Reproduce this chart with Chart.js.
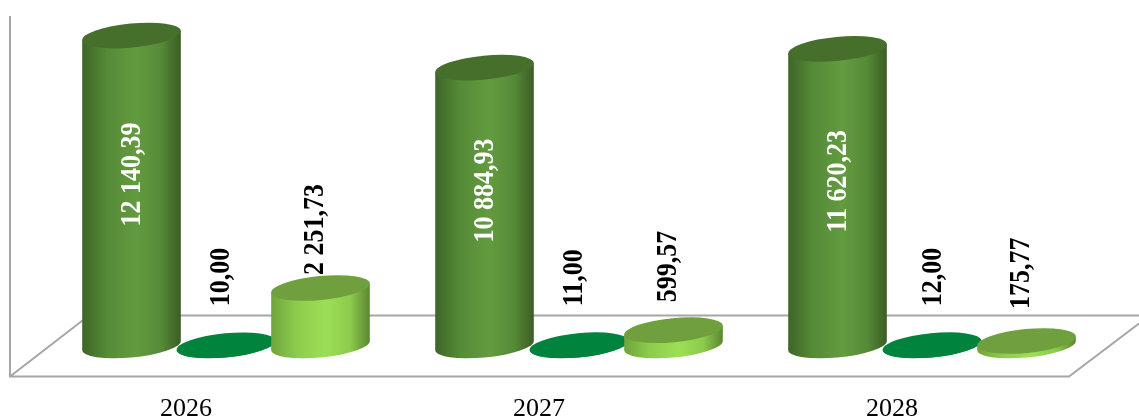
<!DOCTYPE html>
<html>
<head>
<meta charset="utf-8">
<script src="https://cdn.jsdelivr.net/npm/chart.js@4/dist/chart.umd.js"></script>
<style>
  html, body { margin: 0; padding: 0; background: #fff; }
  canvas { display: block; }
</style>
</head>
<body>
<canvas id="chart" width="1139" height="419"></canvas>
<script>
// Data
const years = ['2026', '2027', '2028'];
const seriesA = [12140.39, 10884.93, 11620.23];
const seriesB = [10.00, 11.00, 12.00];
const seriesC = [2251.73, 599.57, 175.77];

// Colours for each cylinder: side gradient + cap
const looks = [
    { stops: ['#3d6527', '#558a37', '#639b40', '#3b5c25'], cap: '#476f2c', labelColor: '#ffffff' },
    { stops: ['#00843d', '#00843d', '#00843d', '#00843d'], cap: '#00843d', labelColor: '#000000' },
    { stops: ['#6fa43c', '#8ccb4c', '#9cdf56', '#5b8530'], cap: '#709f3e', labelColor: '#000000' }
];

// How far the black labels sit above their cylinder
const liftB = [39, 39, 39];
const liftC = [13, 28, 32];
const nudgeB = [0, 0, 6];

const TILT = -5.5 * Math.PI / 180;
const CAP_B = 12;

// 12140.39 -> "12 140,39"
const formatValue = (v) => {
    const parts = v.toFixed(2).split('.');
    return parts[0].replace(/\B(?=(\d{3})+$)/g, ' ') + ',' + parts[1];
};

// Draw one cylinder from a bar element
const drawCylinder = (ctx, el, look) => {
    const a = el.width / 2;
    const t0 = Math.atan(-(CAP_B / a) * Math.tan(TILT));
    const dx = a * Math.cos(t0 + Math.PI) * Math.cos(TILT) - CAP_B * Math.sin(t0 + Math.PI) * Math.sin(TILT);
    const dy = a * Math.cos(t0 + Math.PI) * Math.sin(TILT) + CAP_B * Math.sin(t0 + Math.PI) * Math.cos(TILT);

    const grad = ctx.createLinearGradient(el.x - a, 0, el.x + a, 0);
    grad.addColorStop(0, look.stops[0]);
    grad.addColorStop(0.25, look.stops[1]);
    grad.addColorStop(0.55, look.stops[2]);
    grad.addColorStop(0.8, look.stops[1]);
    grad.addColorStop(1, look.stops[3]);

    ctx.beginPath();
    ctx.ellipse(el.x, el.base, a, CAP_B, TILT, t0, t0 + Math.PI);
    ctx.lineTo(el.x + dx, el.y + dy);
    ctx.lineTo(el.x - dx, el.y - dy);
    ctx.closePath();
    ctx.fillStyle = grad;
    ctx.fill();

    ctx.beginPath();
    ctx.ellipse(el.x, el.y, a, CAP_B, TILT, 0, Math.PI * 2);
    ctx.fillStyle = look.cap;
    ctx.fill();
};

// Walls and floor of the 3D box
const boxPlugin = {
    id: 'box',
    beforeDatasetsDraw(chart) {
        const { ctx } = chart;
        const floorBack = chart.scales.y.getPixelForValue(0) - 30;
        const floorFront = floorBack + 61;
        ctx.save();
        ctx.strokeStyle = '#a6a6a6';
        ctx.lineWidth = 2;
        ctx.beginPath();
        ctx.moveTo(10, 16);
        ctx.lineTo(10, floorFront);
        ctx.lineTo(1069, floorFront);
        ctx.lineTo(1139, floorFront - 53);
        ctx.moveTo(10, floorFront);
        ctx.lineTo(89, floorBack);
        ctx.lineTo(1139, floorBack);
        ctx.stroke();
        ctx.restore();
    }
};

// Swap the flat bars for cylinders, left one first so the next overlaps it
const cylinderPlugin = {
    id: 'cylinder',
    beforeDatasetDraw() {
        return false;
    },
    afterDatasetsDraw(chart) {
        const { ctx } = chart;
        ctx.save();
        chart.data.datasets.forEach((ds, i) => {
            chart.getDatasetMeta(i).data.forEach(el => drawCylinder(ctx, el, looks[i]));
        });
        ctx.restore();
    }
};

// Rotated value labels
const labelPlugin = {
    id: 'valueLabels',
    afterDatasetsDraw(chart) {
        const { ctx } = chart;
        ctx.save();
        ctx.font = 'bold 26px "Liberation Serif"';
        ctx.textBaseline = 'middle';
        chart.data.datasets.forEach((ds, i) => {
            chart.getDatasetMeta(i).data.forEach((el, j) => {
                const text = formatValue(ds.data[j]);
                ctx.save();
                ctx.fillStyle = looks[i].labelColor;
                if (i === 0) {
                    ctx.translate(el.x + 1, (el.y + el.base) / 2 - 16);
                    ctx.textAlign = 'center';
                } else if (i === 1) {
                    ctx.translate(el.x - 5 + nudgeB[j], el.y - liftB[j]);
                    ctx.textAlign = 'left';
                } else {
                    ctx.translate(el.x - 5, el.y - liftC[j]);
                    ctx.textAlign = 'left';
                }
                ctx.rotate(-Math.PI / 2);
                // glyphs in the original are a little wider across the bar
                ctx.scale(1, 1.12);
                ctx.fillText(text, 0, 0);
                ctx.restore();
            });
        });
        ctx.restore();
    }
};

new Chart(document.getElementById('chart'), {
    type: 'bar',
    data: {
        labels: years,
        datasets: [
            { data: seriesA },
            { data: seriesB },
            { data: seriesC }
        ]
    },
    options: {
        responsive: false,
        animation: false,
        categoryPercentage: 0.803,
        barPercentage: 1.048,
        layout: { padding: { left: 49.5, right: 30.5, top: 13.6, bottom: 0 } },
        plugins: { legend: { display: false }, tooltip: { enabled: false } },
        scales: {
            x: {
                grid: { display: false },
                border: { display: false },
                afterFit: (scale) => { scale.height = 73.5; },
                ticks: {
                    color: '#000',
                    font: { family: '"Liberation Serif"', size: 26 },
                    padding: 40,
                    labelOffset: -40,
                    maxRotation: 0
                }
            },
            y: { display: false, min: 0, max: 13000 }
        }
    },
    plugins: [boxPlugin, cylinderPlugin, labelPlugin]
});
</script>
</body>
</html>
